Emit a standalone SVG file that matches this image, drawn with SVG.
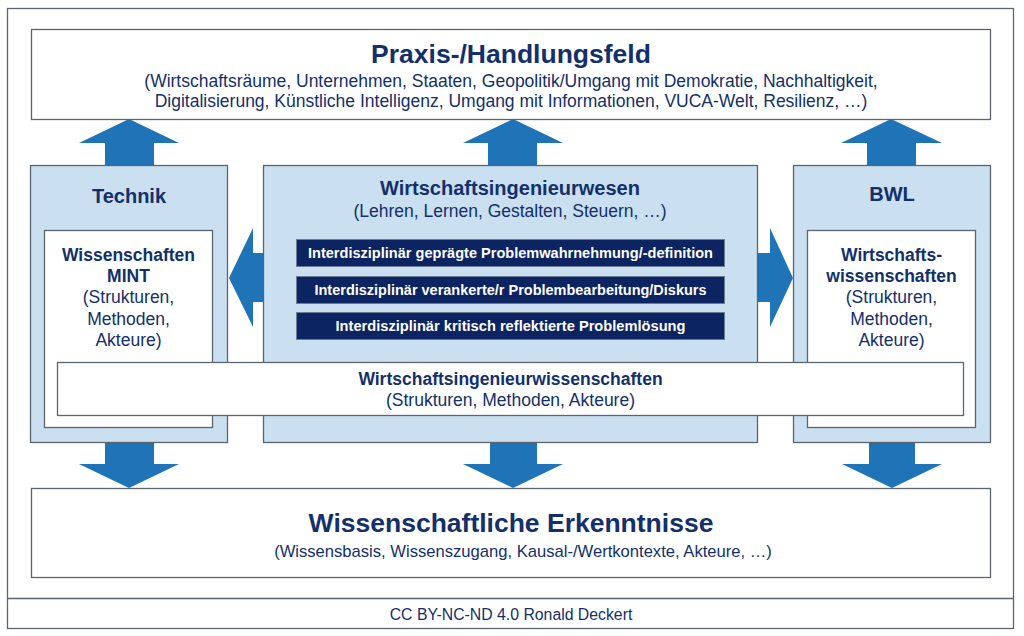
<svg xmlns="http://www.w3.org/2000/svg" width="1024" height="636" viewBox="0 0 1024 636">
<style>
.frame{fill:#fff;stroke:#5b6570;stroke-width:1.3}
.light{fill:#cadff0;stroke:#5b6570;stroke-width:1.3}
.white{fill:#fff;stroke:#5b6570;stroke-width:1.3}
.dark{fill:#0c2461;stroke:#6a7c96;stroke-width:1}
.arrow{fill:#1f74b7}
text{font-family:"Liberation Sans",Arial,sans-serif;fill:#13306a;text-anchor:middle}
.b{font-weight:bold}
.h1{font-size:26.5px;font-weight:bold}
.h2{font-size:20px;font-weight:bold}
.s17{font-size:17.5px}
.s16{font-size:16.6px}
.foot{font-size:15.8px}
.dt{font-family:"Liberation Sans Narrow","Liberation Sans",Arial,sans-serif;font-size:14px;font-weight:bold;fill:#fff}
</style>
<rect x="0" y="0" width="1024" height="636" fill="#fff"/>
<g id="outer-frame">
<rect class="frame" x="7.5" y="8.5" width="1006" height="620"/>
<line x1="7.5" y1="598.5" x2="1013.5" y2="598.5" stroke="#5b6570" stroke-width="1.3"/>
</g>
<g id="footer"><text x="511" y="620" class="foot">CC BY-NC-ND 4.0 Ronald Deckert</text></g>

<g id="connectors">
<polygon class="arrow" points="105,165 105,143 79,143 129,119 179,143 154,143 154,165"/>
<polygon class="arrow" points="488,165 488,143 463,143 513,119 563,143 537,143 537,165"/>
<polygon class="arrow" points="867,165 867,143 841,143 891,119 942,143 916,143 916,165"/>
<polygon class="arrow" points="105,443 154,443 154,464 179,464 129,488 79,464 105,464"/>
<polygon class="arrow" points="490,443 537,443 537,464 563,464 513,488 463,464 490,464"/>
<polygon class="arrow" points="869,443 915,443 915,464 942,464 892,488 842,464 869,464"/>
</g>

<g id="praxis">
<rect class="white" x="31.5" y="29.5" width="959" height="90"/>
<text x="511" y="63" class="h1">Praxis-/Handlungsfeld</text>
<text x="511" y="87" class="s17">(Wirtschaftsräume, Unternehmen, Staaten, Geopolitik/Umgang mit Demokratie, Nachhaltigkeit,</text>
<text x="511" y="107" class="s17">Digitalisierung, Künstliche Intelligenz, Umgang mit Informationen, VUCA-Welt, Resilienz, …)</text>
</g>

<g id="erkenntnisse">
<rect class="white" x="31.5" y="488.5" width="959" height="89"/>
<text x="511" y="532" class="h1">Wissenschaftliche Erkenntnisse</text>
<text x="523" y="557" class="s16">(Wissensbasis, Wissenszugang, Kausal-/Wertkontexte, Akteure, …)</text>
</g>

<g id="technik">
<rect class="light" x="30.5" y="165.5" width="197" height="277"/>
<text x="129" y="203" class="h2">Technik</text>
</g>
<g id="bwl">
<rect class="light" x="793.5" y="165.5" width="197" height="277"/>
<text x="892" y="201" class="h2">BWL</text>
</g>
<g id="wiwe">
<rect class="light" x="263.5" y="165.5" width="494" height="277"/>
<text x="510" y="195" class="h2">Wirtschaftsingenieurwesen</text>
<text x="510" y="217" class="s17">(Lehren, Lernen, Gestalten, Steuern, …)</text>
</g>

<g id="side-arrows">
<polygon class="arrow" points="263,253 253,253 253,228 229,278 253,327 253,302 263,302"/>
<polygon class="arrow" points="758,253 770,253 770,228 793,278 770,327 770,302 758,302"/>
</g>

<g id="mint">
<rect class="white" x="44.5" y="230.5" width="168" height="197"/>
<text x="128.5" y="261" class="s17 b">Wissenschaften</text>
<text x="128.5" y="282" class="s17 b">MINT</text>
<text x="128.5" y="303" class="s17">(Strukturen,</text>
<text x="128.5" y="325" class="s17">Methoden,</text>
<text x="128.5" y="346" class="s17">Akteure)</text>
</g>
<g id="wiwi">
<rect class="white" x="807.5" y="230.5" width="168" height="197"/>
<text x="891.5" y="261" class="s17 b">Wirtschafts-</text>
<text x="891.5" y="282" class="s17 b">wissenschaften</text>
<text x="891.5" y="303" class="s17">(Strukturen,</text>
<text x="891.5" y="325" class="s17">Methoden,</text>
<text x="891.5" y="346" class="s17">Akteure)</text>
</g>

<g id="problem1">
<rect class="dark" x="296.5" y="239.5" width="428" height="27"/>
<text x="510.5" y="258" class="dt" textLength="405" lengthAdjust="spacingAndGlyphs">Interdisziplinär geprägte Problemwahrnehmung/-definition</text>
</g>
<g id="problem2">
<rect class="dark" x="296.5" y="276.5" width="428" height="27"/>
<text x="510.5" y="295" class="dt" textLength="392" lengthAdjust="spacingAndGlyphs">Interdisziplinär verankerte/r Problembearbeitung/Diskurs</text>
</g>
<g id="problem3">
<rect class="dark" x="296.5" y="312.5" width="428" height="27"/>
<text x="510.5" y="331" class="dt" textLength="350" lengthAdjust="spacingAndGlyphs">Interdisziplinär kritisch reflektierte Problemlösung</text>
</g>

<g id="wiing-wiss">
<rect class="white" x="57.5" y="362.5" width="906" height="53"/>
<text x="510.5" y="385" class="s17 b">Wirtschaftsingenieurwissenschaften</text>
<text x="510.5" y="406" class="s17">(Strukturen, Methoden, Akteure)</text>
</g>
</svg>
